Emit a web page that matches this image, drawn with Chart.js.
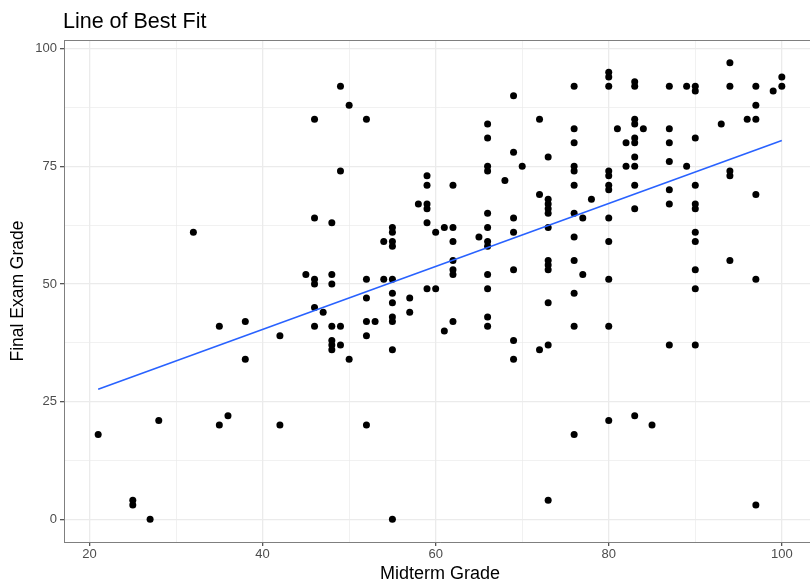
<!DOCTYPE html>
<html>
<head>
<meta charset="utf-8">
<title>Line of Best Fit</title>
<script src="https://cdn.jsdelivr.net/npm/chart.js@4.4.1/dist/chart.umd.min.js"></script>
<style>
    html, body { margin: 0; padding: 0; background: #fff; overflow: hidden; }
    #wrap { width: 820px; height: 583px; position: relative; }
</style>
</head>
<body>
<div id="wrap"><canvas id="fitChart"></canvas></div>
<script>
// midterm grade -> final exam grades for every student with that midterm
const midterm = [21, 25, 27, 28, 32, 35, 36, 38, 42, 45, 46, 47, 48, 49, 50, 52, 53, 54, 55, 57, 58, 59, 60, 61, 62, 65, 66, 68, 69, 70, 72, 73, 76, 77, 78, 80, 81, 82, 83, 84, 85, 87, 89, 90, 93, 94, 96, 97, 99, 100];
const finals = [
    [18], [4, 3], [0], [21], [61], [41, 20], [22], [42, 34], [39, 20], [52],
    [85, 64, 51, 50, 45, 41], [44], [63, 52, 50, 41, 38, 37, 36], [92, 74, 41, 37], [88, 34],
    [85, 51, 47, 42, 39, 20], [42], [59, 51], [62, 61, 59, 58, 51, 48, 46, 43, 42, 36, 0], [47, 44],
    [67], [73, 71, 67, 66, 63, 49], [61, 49], [62, 40], [71, 62, 59, 55, 53, 52, 42],
    [60], [84, 81, 75, 74, 65, 62, 59, 58, 52, 49, 43, 41], [72], [90, 78, 64, 61, 53, 38, 34], [75],
    [85, 69, 36], [77, 68, 67, 66, 65, 62, 55, 54, 53, 46, 37, 4],
    [92, 83, 80, 75, 74, 71, 65, 60, 55, 48, 41, 18], [64, 52], [68],
    [95, 94, 92, 74, 73, 71, 70, 64, 59, 51, 41, 21], [83], [80, 75],
    [93, 92, 85, 84, 81, 80, 77, 75, 71, 66, 22], [83], [20],
    [92, 83, 80, 76, 70, 67, 37], [92, 75], [92, 91, 81, 71, 67, 66, 61, 59, 53, 49, 37],
    [84], [97, 92, 74, 73, 55], [85], [92, 88, 85, 69, 51, 3], [91], [94, 92]
];
const xTicks = [20, 40, 60, 80, 100];
const yTicks = [0, 25, 50, 75, 100];

const points = [];
midterm.forEach((m, i) => finals[i].forEach(f => points.push({ x: m, y: f })));

// ordinary least squares fit
const n = points.length;
const mx = points.reduce((s, p) => s + p.x, 0) / n;
const my = points.reduce((s, p) => s + p.y, 0) / n;
let sxy = 0, sxx = 0;
points.forEach(p => { sxy += (p.x - mx) * (p.y - my); sxx += (p.x - mx) ** 2; });
const slope = sxy / sxx;
const intercept = my - slope * mx;
const xMin = Math.min(...midterm), xMax = Math.max(...midterm);
const fitLine = [
    { x: xMin, y: intercept + slope * xMin },
    { x: xMax, y: intercept + slope * xMax }
];

const FONT = '"Liberation Sans", Arial, sans-serif';

// panel frame plus the plot title
const framePlugin = {
    id: 'frame',
    afterDraw(chart) {
        const { ctx, chartArea: a } = chart;
        ctx.save();
        ctx.strokeStyle = '#7f7f7f';
        ctx.lineWidth = 1;
        ctx.beginPath();
        ctx.moveTo(a.left, a.top + 0.5);
        ctx.lineTo(a.right, a.top + 0.5);
        ctx.stroke();
        ctx.fillStyle = '#000';
        ctx.font = '21.5px ' + FONT;
        ctx.textBaseline = 'alphabetic';
        ctx.fillText('Line of Best Fit', 63, 28);
        ctx.restore();
    }
};

new Chart(document.getElementById('fitChart'), {
    type: 'scatter',
    data: {
        datasets: [
            {
                label: 'Students',
                data: points,
                backgroundColor: '#000',
                borderWidth: 0,
                pointRadius: 3.5,
                order: 2
            },
            {
                type: 'line',
                label: 'Fit',
                data: fitLine,
                borderColor: '#2962ff',
                borderWidth: 1.6,
                pointRadius: 0,
                fill: false,
                order: 1
            }
        ]
    },
    options: {
        responsive: true,
        maintainAspectRatio: false,
        animation: false,
        layout: { padding: { top: 40, left: 0, right: 0, bottom: 0 } },
        plugins: { legend: { display: false }, tooltip: { enabled: false } },
        scales: {
            x: {
                type: 'linear',
                min: 17.05,
                max: 103.95,
                afterFit: s => { s.height = 41; },
                ticks: {
                    stepSize: 10,
                    includeBounds: false,
                    autoSkip: false,
                    maxRotation: 0,
                    padding: 1,
                    color: '#4d4d4d',
                    font: { family: FONT, size: 13 },
                    callback: v => xTicks.includes(v) ? v : ''
                },
                grid: {
                    color: '#ebebeb',
                    lineWidth: c => xTicks.includes(c.tick.value) ? 1.3 : 0.7,
                    tickLength: 4,
                    tickColor: c => xTicks.includes(c.tick.value) ? '#555' : 'rgba(0,0,0,0)'
                },
                border: { color: '#7f7f7f', width: 1 },
                title: {
                    display: true,
                    text: 'Midterm Grade',
                    color: '#000',
                    font: { family: FONT, size: 18, lineHeight: 1 },
                    padding: { top: 0, bottom: 0 }
                }
            },
            y: {
                type: 'linear',
                min: -4.85,
                max: 101.85,
                afterFit: s => { s.width = 64; },
                ticks: {
                    stepSize: 12.5,
                    includeBounds: false,
                    autoSkip: false,
                    padding: 3,
                    color: '#4d4d4d',
                    font: { family: FONT, size: 13 },
                    callback: v => yTicks.includes(v) ? v : ''
                },
                grid: {
                    color: '#ebebeb',
                    lineWidth: c => yTicks.includes(c.tick.value) ? 1.3 : 0.7,
                    tickLength: 4,
                    tickColor: c => yTicks.includes(c.tick.value) ? '#555' : 'rgba(0,0,0,0)'
                },
                border: { color: '#7f7f7f', width: 1 },
                title: {
                    display: true,
                    text: 'Final Exam Grade',
                    color: '#000',
                    font: { family: FONT, size: 17.5, lineHeight: 1 },
                    padding: { top: 9, bottom: 0 }
                }
            }
        }
    },
    plugins: [framePlugin]
});
</script>
</body>
</html>
